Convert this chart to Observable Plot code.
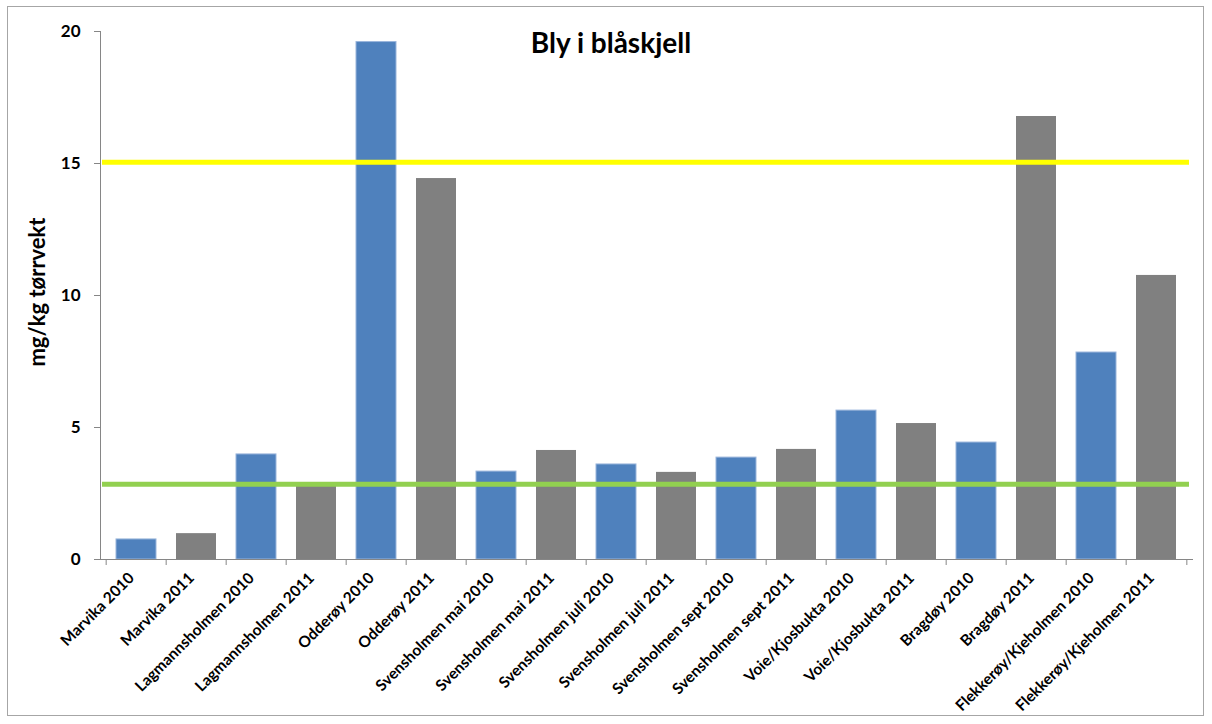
<!DOCTYPE html>
<html>
<head>
<meta charset="utf-8">
<script src="https://cdn.jsdelivr.net/npm/d3@7"></script>
<script src="https://cdn.jsdelivr.net/npm/@observablehq/plot@0.6"></script>
<style>
  html, body { margin: 0; padding: 0; background: #fff; }
  #wrap { position: relative; width: 1212px; height: 724px; font-family: Lato, "Open Sans", sans-serif; }
  #border { position: absolute; left: 7px; top: 6px; width: 1197px; height: 710px; border: 1px solid #a6a6a6; box-sizing: border-box; pointer-events: none; }
  #title { position: absolute; left: 611px; top: 42px; transform: translate(-50%, -50%); font-weight: bold; font-size: 28px; color: #000; white-space: nowrap; }
  #ylab { position: absolute; left: 36px; top: 292px; transform: translate(-50%, -50%) rotate(-90deg); font-weight: bold; font-size: 22px; white-space: nowrap; color: #000; }
</style>
</head>
<body>
<div id="wrap">
  <div id="chart"></div>
  <div id="border"></div>
  <div id="title">Bly i blåskjell</div>
  <div id="ylab">mg/kg tørrvekt</div>
</div>
<script>
const categories = [
  "Marvika 2010", "Marvika 2011", "Lagmannsholmen 2010", "Lagmannsholmen 2011",
  "Odderøy 2010", "Odderøy 2011", "Svensholmen mai 2010", "Svensholmen mai 2011",
  "Svensholmen juli 2010", "Svensholmen juli 2011", "Svensholmen sept 2010", "Svensholmen sept 2011",
  "Voie/Kjosbukta 2010", "Voie/Kjosbukta 2011", "Bragdøy 2010", "Bragdøy 2011",
  "Flekkerøy/Kjeholmen 2010", "Flekkerøy/Kjeholmen 2011"
];
const values = [0.76, 0.98, 3.98, 2.80, 19.6, 14.43, 3.33, 4.13, 3.6, 3.3, 3.86, 4.17, 5.64, 5.15, 4.43, 16.78, 7.84, 10.76];
const years = categories.map(c => c.endsWith("2010") ? "2010" : "2011");
const yTicks = [0, 5, 10, 15, 20];
const upperLimit = [15.05];
const lowerLimit = [2.85];

const data = categories.map((c, i) => ({category: c, value: values[i], year: years[i]}));

const W = 1212, H = 724, mL = 100, mR = 20, mT = 31, mB = 165;
const step = (W - mL - mR) / categories.length;
const axisColor = "#868686";

const chart = Plot.plot({
  width: W, height: H,
  marginLeft: mL, marginRight: mR, marginTop: mT, marginBottom: mB,
  style: {fontFamily: "Lato, 'Open Sans', sans-serif", color: "#000", background: "transparent"},
  x: {domain: categories, paddingInner: 0.34, paddingOuter: 0.17, label: null},
  y: {domain: [0, 20], label: null},
  color: {domain: ["2010", "2011"], range: ["#4F81BD", "#808080"]},
  marks: [
    Plot.barY(data, {x: "category", y: "value", fill: "year", stroke: d => d.year === "2010" ? "#9ab5db" : "none", strokeWidth: 1}),
    Plot.ruleY(upperLimit, {stroke: "#FFFF00", strokeWidth: 5, insetLeft: 2, insetRight: 3}),
    Plot.ruleY(lowerLimit, {stroke: "#92D050", strokeWidth: 5, insetLeft: 2, insetRight: 3}),
    Plot.frame({anchor: "left", stroke: axisColor}),
    Plot.frame({anchor: "bottom", stroke: axisColor}),
    Plot.axisY({ticks: yTicks, tickSize: 6, text: null, stroke: axisColor}),
    Plot.axisY({ticks: yTicks, tickSize: 0, tickPadding: 20, fontSize: 17, fontWeight: "bold", fill: "#000", label: null}),
    Plot.axisX({tickSize: 6, text: null, stroke: axisColor, dx: -step / 2}),
    Plot.axisX({ticks: [categories[categories.length - 1]], tickSize: 6, text: null, stroke: axisColor, dx: step / 2}),
    Plot.axisX({tickSize: 0, tickPadding: 16, tickRotate: -45, dx: -5, fontSize: 15.5, fontWeight: "bold", fill: "#000", label: null})
  ]
});
document.getElementById("chart").appendChild(chart);
</script>
</body>
</html>
